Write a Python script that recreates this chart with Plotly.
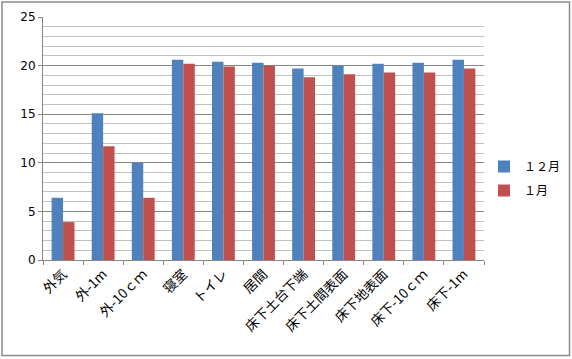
import plotly.graph_objects as go

categories = ["外気", "外-1m", "外-10ｃｍ", "寝室", "トイレ", "居間",
              "床下土台下端", "床下土間表面", "床下地表面", "床下-10ｃｍ", "床下-1m"]
dec_values = [6.4, 15.1, 10.0, 20.6, 20.4, 20.3, 19.7, 20.0, 20.2, 20.3, 20.6]
jan_values = [3.9, 11.7, 6.4, 20.2, 19.9, 20.0, 18.8, 19.1, 19.3, 19.3, 19.7]
series_names = ["１２月", "１月"]
y_ticks = [0, 5, 10, 15, 20, 25]

W, H = 572, 359
ML, MR, MT, MB = 43, 88, 17, 99
PW, PH = W - ML - MR, H - MT - MB

fig = go.Figure()
fig.add_trace(go.Bar(x=categories, y=dec_values, name=series_names[0],
                     legendgroup="a",
                     marker=dict(color="#4F81BD", line=dict(width=0))))
fig.add_trace(go.Bar(x=categories, y=jan_values, name=series_names[1],
                     legendgroup="b",
                     marker=dict(color="#C0504D", line=dict(width=0))))

font = "Noto Sans CJK JP, sans-serif"

def px_x(p):
    return (p - ML) / PW

def px_y(p):
    return 1 - (p - MT) / PH

fig.update_layout(
    width=W, height=H,
    margin=dict(l=ML, r=MR, t=MT, b=MB, autoexpand=False),
    paper_bgcolor="white", plot_bgcolor="white",
    barmode="group", bargap=0.43, bargroupgap=0,
    font=dict(family=font, size=11, color="#000000"),
    legend=dict(x=px_x(484), y=px_y(152), xanchor="left", yanchor="top",
                font=dict(size=12, family=font), itemwidth=30,
                traceorder="grouped", tracegroupgap=5,
                bgcolor="rgba(0,0,0,0)"),
    shapes=[dict(type="rect", xref="paper", yref="paper",
                 x0=px_x(2), x1=px_x(569.5), y0=px_y(355.5), y1=px_y(2),
                 line=dict(color="#8c8c8c", width=1.5), layer="below")],
)
fig.update_xaxes(
    type="category", tickangle=-45, showline=True, linecolor="#868686",
    linewidth=1, ticks="outside", ticklen=4, tickcolor="#868686",
    tickson="boundaries", showgrid=False, automargin=False,
    tickfont=dict(size=13.5, family=font),
)
fig.update_yaxes(
    range=[0, 25], tickvals=y_ticks, showline=True, linecolor="#868686",
    linewidth=1, ticks="outside", ticklen=4, tickcolor="#868686",
    showgrid=True, gridcolor="#868686", gridwidth=1, automargin=False,
    minor=dict(dtick=1, showgrid=True, gridcolor="#c0c0c0", gridwidth=1),
    zeroline=False, tickfont=dict(size=12, family="DejaVu Sans"),
)

fig.write_html("out.html",
               config={"displayModeBar": False},
               post_script="document.body.style.margin='0';"
                           "document.body.style.overflow='hidden';")
